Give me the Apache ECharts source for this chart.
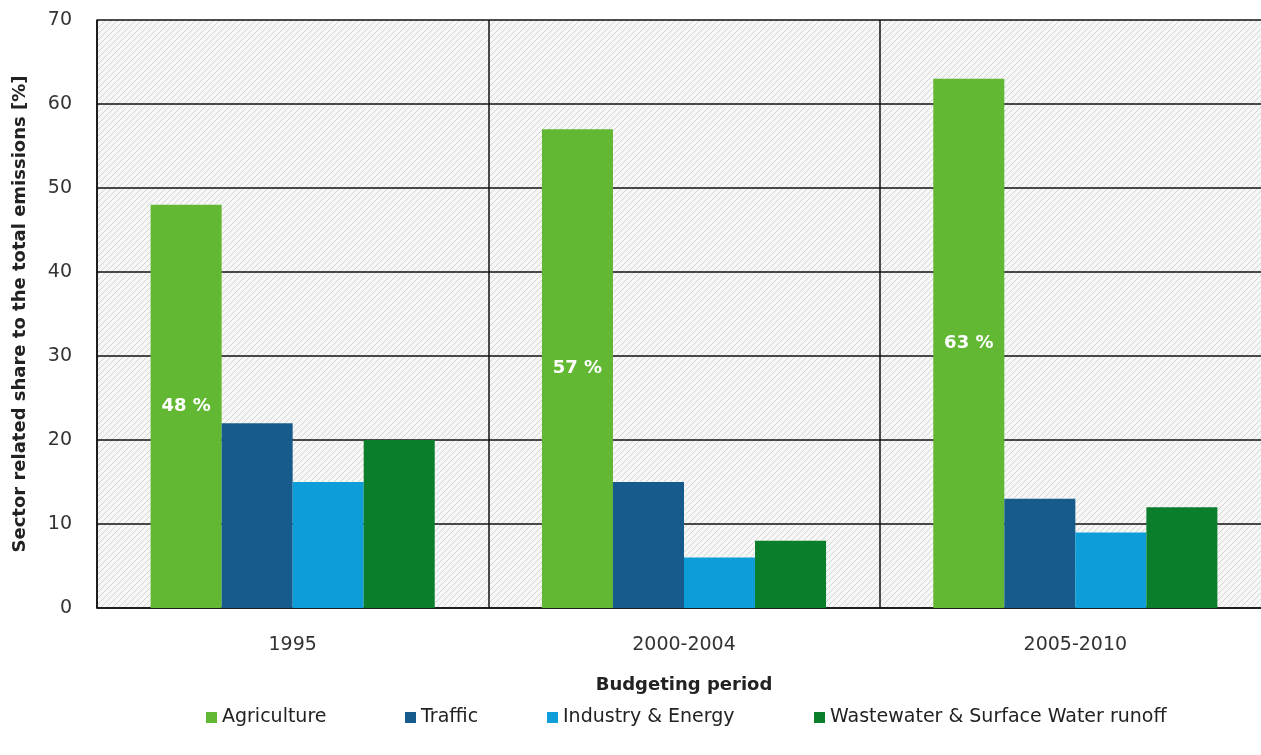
<!DOCTYPE html>
<html><head><meta charset="utf-8">
<script src="https://cdn.jsdelivr.net/npm/echarts@6/dist/echarts.min.js"></script>
<style>html,body{margin:0;padding:0;background:#fff}#c{width:1261px;height:755px}</style>
</head><body><div id="c"></div>
<script>
const categories = ['1995', '2000-2004', '2005-2010'];
const seriesNames = ['Agriculture', 'Traffic', 'Industry & Energy', 'Wastewater & Surface Water runoff'];
const agriculture = [48, 57, 63];
const traffic = [22, 15, 13];
const industry = [15, 6, 9];
const wastewater = [20, 8, 12];
const yTicks = [0, 10, 20, 30, 40, 50, 60, 70];
const colors = ['#62b833', '#165b8b', '#0d9dd9', '#0b7e2b'];

// hatch pattern
const pc = document.createElement('canvas');
pc.width = 6; pc.height = 6;
const px = pc.getContext('2d');
px.fillStyle = '#f7f7f7'; px.fillRect(0, 0, 6, 6);
px.strokeStyle = '#d4d4d4'; px.lineWidth = 1;
px.beginPath();
px.moveTo(-1, 7); px.lineTo(7, -1);
px.moveTo(-1, 1); px.lineTo(1, -1);
px.moveTo(5, 7); px.lineTo(7, 5);
px.stroke();

const chart = echarts.init(document.getElementById('c'));
const font = 'DejaVu Sans';
const dataArr = [agriculture, traffic, industry, wastewater];
const legendLefts = [206, 405, 547, 814];
chart.setOption({
  animation: false,
  textStyle: { fontFamily: font },
  grid: { left: 97, top: 20, width: 1174, bottom: 147, show: true, borderWidth: 0,
          outerBoundsMode: 'none', containLabel: false,
          backgroundColor: { image: pc, repeat: 'repeat' } },
  legend: seriesNames.map((n, i) => ({
    data: [n], left: legendLefts[i], top: 708, padding: 0, itemWidth: 11, itemHeight: 11, icon: 'rect',
    itemGap: 0, textStyle: { fontSize: 19, color: '#222', fontFamily: font }
  })),
  xAxis: {
    type: 'category', data: categories,
    name: 'Budgeting period', nameLocation: 'middle', nameGap: 68,
    nameTextStyle: { fontSize: 18, fontWeight: 'bold', color: '#222' },
    axisLine: { show: true, lineStyle: { color: '#111', width: 1.5 } },
    axisTick: { show: false },
    axisLabel: { fontSize: 19, color: '#333', margin: 28 },
    splitLine: { show: true, lineStyle: { color: '#111', width: 1.5 } }
  },
  yAxis: {
    type: 'value', min: 0, max: 70, interval: 10,
    name: 'Sector related share to the total emissions [%]', nameLocation: 'middle', nameGap: 68,
    nameTextStyle: { fontSize: 18, fontWeight: 'bold', color: '#222' },
    axisLine: { show: true, lineStyle: { color: '#111', width: 1.5 } },
    axisTick: { show: false },
    axisLabel: { fontSize: 19, color: '#333', margin: 25,
                 formatter: v => yTicks.includes(v) ? String(v) : '' },
    splitLine: { show: true, lineStyle: { color: '#111', width: 1.5 } }
  },
  series: seriesNames.map((n, i) => ({
    name: n, type: 'bar', data: dataArr[i], barGap: '0%', barCategoryGap: '27.4%',
    itemStyle: { color: colors[i] },
    label: i === 0 ? { show: true, position: 'inside', formatter: '{c} %', color: '#fff',
                       fontWeight: 'bold', fontSize: 18 } : { show: false }
  }))
});
</script></body></html>
